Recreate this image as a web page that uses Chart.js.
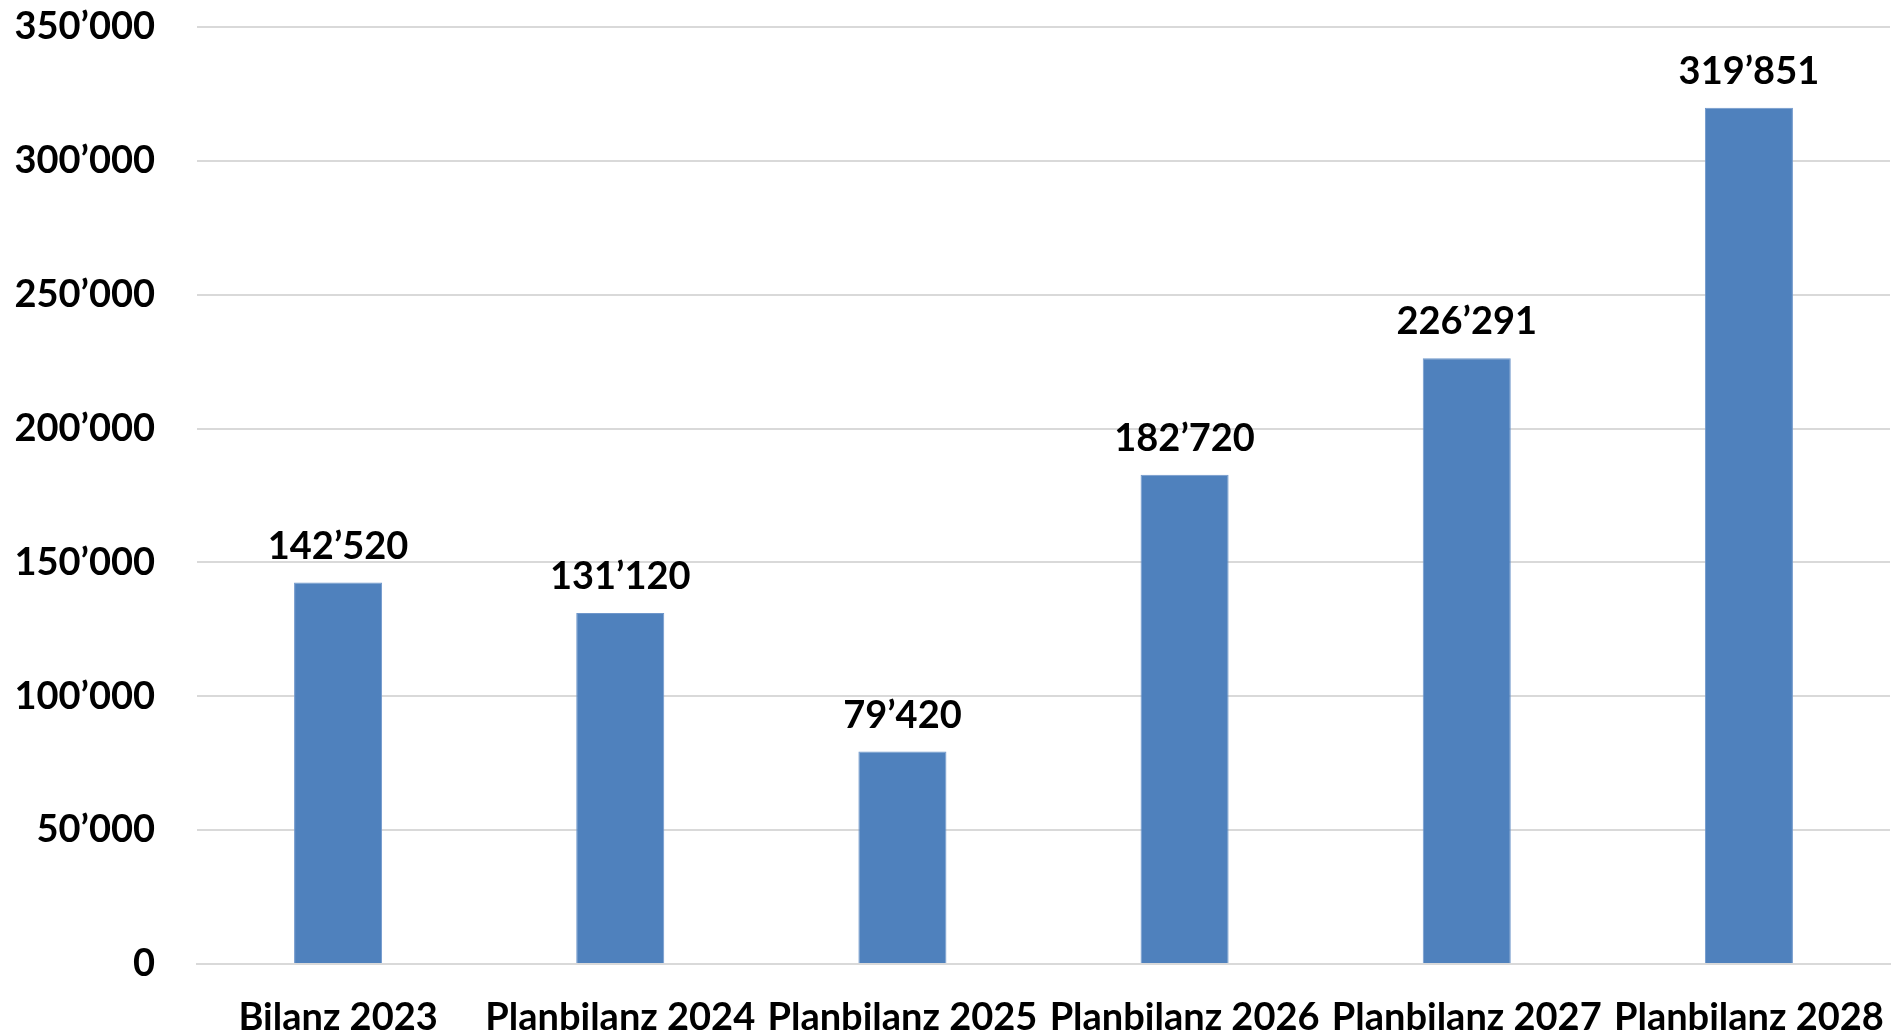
<!DOCTYPE html>
<html>
<head>
<meta charset="utf-8">
<script src="https://cdn.jsdelivr.net/npm/chart.js@4/dist/chart.umd.min.js"></script>
<style>
    html, body { margin: 0; padding: 0; background: #fff; }
    #wrap { width: 1896px; height: 1036px; }
</style>
</head>
<body>
<div id="wrap"><canvas id="bilanzChart"></canvas></div>
<script>
// Data
const categories = ['Bilanz 2023', 'Planbilanz 2024', 'Planbilanz 2025', 'Planbilanz 2026', 'Planbilanz 2027', 'Planbilanz 2028'];
const values = [142520, 131120, 79420, 182720, 226291, 319851];
const yMax = 350000;
const yStep = 50000;

const fontFamily = 'Lato, "Open Sans", sans-serif';

// Swiss style thousands: 142’520
function formatNumber(v) {
    return String(Math.round(v)).replace(/\B(?=(\d{3})+(?!\d))/g, '\u2019');
}

// Value labels above the bars
const valueLabels = {
    id: 'valueLabels',
    afterDatasetsDraw(chart) {
        const ctx = chart.ctx;
        const meta = chart.getDatasetMeta(0);
        ctx.save();
        ctx.font = 'bold 38px ' + fontFamily;
        ctx.fillStyle = '#000';
        ctx.textAlign = 'center';
        ctx.textBaseline = 'middle';
        meta.data.forEach((bar, i) => {
            ctx.fillText(formatNumber(values[i]), bar.x, bar.y - 36);
        });
        ctx.restore();
    }
};

new Chart(document.getElementById('bilanzChart'), {
    type: 'bar',
    data: {
        labels: categories,
        datasets: [{
            data: values,
            backgroundColor: '#4f81bd',
            borderColor: '#6f97cb',
            borderWidth: 1,
            categoryPercentage: 1,
            barPercentage: 0.312
        }]
    },
    options: {
        responsive: true,
        maintainAspectRatio: false,
        animation: false,
        layout: {
            padding: { top: 27, right: 6, bottom: 0, left: 0 }
        },
        scales: {
            x: {
                grid: { display: false, drawTicks: false },
                border: { display: true, color: '#d9d9d9', width: 2 },
                ticks: {
                    color: '#000',
                    padding: 31,
                    maxRotation: 0,
                    autoSkip: false,
                    font: { family: fontFamily, size: 38, weight: 'bold' }
                },
                afterFit(scale) {
                    scale.height = 72;
                    scale.paddingLeft = 0;
                    scale.paddingRight = 0;
                }
            },
            y: {
                min: 0,
                max: yMax,
                ticks: {
                    stepSize: yStep,
                    color: '#000',
                    padding: 42,
                    font: { family: fontFamily, size: 38, weight: 'bold' },
                    callback: v => formatNumber(v)
                },
                grid: { color: '#d9d9d9', lineWidth: 2, drawTicks: false },
                border: { display: false },
                afterFit(scale) {
                    scale.width = 197;
                    scale.paddingTop = 0;
                    scale.paddingBottom = 0;
                }
            }
        },
        plugins: {
            legend: { display: false },
            tooltip: { enabled: false }
        }
    },
    plugins: [valueLabels]
});
</script>
</body>
</html>
